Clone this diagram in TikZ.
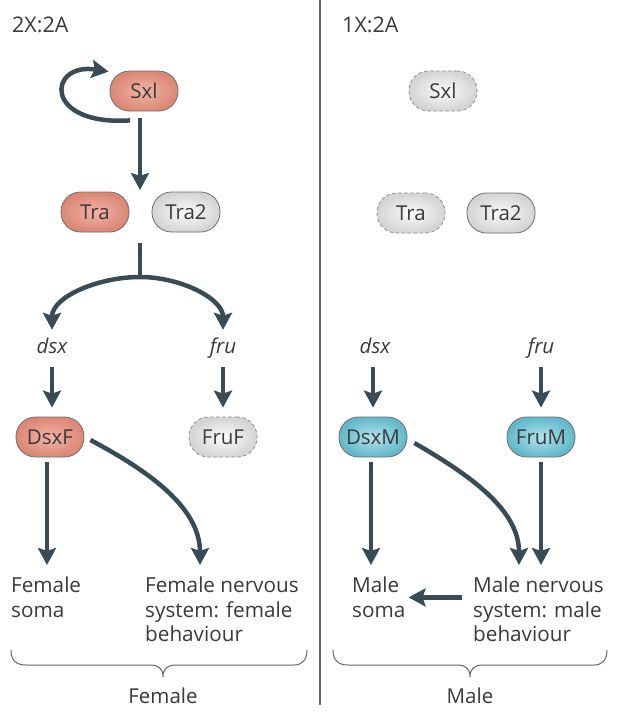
\documentclass[tikz,border=0pt]{standalone}
\usepackage{fontspec}
\setmainfont{Open Sans}
\usetikzlibrary{arrows.meta,calc}
\definecolor{arrc}{HTML}{384C58}
\definecolor{txt}{HTML}{3A3A3A}
\definecolor{redin}{HTML}{F0B3A6}
\definecolor{redout}{HTML}{DC8775}
\definecolor{bluein}{HTML}{B4E3EC}
\definecolor{blueout}{HTML}{62B8CA}
\definecolor{grayin}{HTML}{FBFBFB}
\definecolor{grayout}{HTML}{D4D4D4}
\definecolor{pillline}{HTML}{6E6E6E}
\tikzset{
  pill/.style={rectangle, rounded corners=19.5pt, minimum width=68pt, minimum height=40pt,
    inner sep=0pt, draw=pillline, line width=0.8pt, font=\fontsize{20.5}{24}\selectfont, text=txt},
  redfill/.style={shading=radial, inner color=redin, outer color=redout},
  bluefill/.style={shading=radial, inner color=bluein, outer color=blueout},
  grayfill/.style={shading=radial, inner color=grayin, outer color=grayout},
  absent/.style={dash pattern=on 3.5pt off 2.5pt, draw=gray!90},
  lab/.style={inner sep=0pt, text height=14pt, text depth=4pt, font=\fontsize{20.5}{24}\selectfont\itshape, text=txt},
  body/.style={inner sep=0pt, align=left, anchor=north west, font=\fontsize{20.7}{24.5}\selectfont, text=txt},
  arr/.style={draw=arrc, line width=4.5pt, -{Stealth[length=17pt,width=18pt,inset=3pt]}},
  plain/.style={draw=arrc, line width=4.5pt},
  bracel/.style={draw=gray!80!black, line width=1pt},
}
\begin{document}
\begin{tikzpicture}[x=1pt,y=-1pt]
\useasboundingbox (0,0) rectangle (626,720);
\fill[white] (0,0) rectangle (626,720);
% divider
\draw[gray!80!black, line width=1.2pt] (320,0) -- (320,705);
% headers
\node[anchor=base west, inner sep=0pt, font=\fontsize{21.5}{25}\selectfont, text=txt] (hF) at (12,32) {2X:2A};
\node[anchor=base west, inner sep=0pt, font=\fontsize{21.5}{25}\selectfont, text=txt] (hM) at (342,32) {1X:2A};

% ---------- female side ----------
\node[pill, redfill] (sxlF) at (144,91) {Sxl};
\node[pill, redfill] (traF) at (95,212) {Tra};
\node[pill, grayfill] (tra2F) at (186,212) {Tra2};
\coordinate (pairF) at (140,190);
\coordinate (brF) at (140,277);
\node[lab] (dsxF) at (52,348) {dsx};
\node[lab] (fruF) at (223,348) {fru};
\node[pill, redfill] (DsxF) at (50,437) {DsxF};
\node[pill, grayfill, absent] (FruF) at (223,437) {FruF};
\node[body] (fsoma) at (11,577) {Female\\soma};
\node[body] (fnerv) at (145,577) {Female nervous\\system: female\\behaviour};
\node[anchor=base, inner sep=0pt, font=\fontsize{20.5}{24}\selectfont, text=txt] (female) at (163,703) {Female};

\draw[arr] ([xshift=-14pt,yshift=-9pt]sxlF.south) .. controls (42,126) and (48,62) .. ([xshift=-1pt,yshift=-1pt]sxlF.north west);
\draw[arr] ([xshift=-4pt,yshift=-7pt]sxlF.south) -- (pairF);
\draw[plain] ([xshift=45pt,yshift=-11pt]traF.south) -- (brF);
\draw[arr, shorten >=9pt] (brF) to[out=180,in=90] (dsxF.north);
\draw[arr, shorten >=9pt] (brF) to[out=0,in=90] (fruF.north);
\draw[arr, shorten <=10pt, shorten >=9pt] (dsxF.south) -- (dsxF.south |- DsxF.north);
\draw[arr, shorten <=10pt, shorten >=9pt] (fruF.south) -- (fruF.south |- FruF.north);
\draw[arr, shorten <=5pt, shorten >=12pt] ([xshift=-3pt]DsxF.south) -- ([xshift=-3pt]DsxF.south |- fsoma.north);
\draw[arr, shorten >=12pt] ([xshift=6pt,yshift=-3pt]DsxF.east) to[out=-28,in=90] ([xshift=55pt]fnerv.north west);

\draw[bracel] (fsoma.north west |- 0,650) .. controls (11,660) and (16,665) .. (26,665) -- (150,665)
  .. controls (158,665) and (163,668) .. (female.north |- 0,677) .. controls (163,668) and (168,665) .. (176,665)
  -- (294,665) .. controls (302,665) and (307,660) .. (307,650);

% ---------- male side ----------
\node[pill, grayfill, absent] (sxlM) at (443,91) {Sxl};
\node[pill, grayfill, absent] (traM) at (411,213) {Tra};
\node[pill, grayfill] (tra2M) at (501,213) {Tra2};
\node[lab] (dsxM) at (375,348) {dsx};
\node[lab] (fruM) at (541,348) {fru};
\node[pill, bluefill] (DsxM) at (373,437) {DsxM};
\node[pill, bluefill] (FruM) at (541,437) {FruM};
\node[body] (msoma) at (352,577) {Male\\soma};
\node[body] (mnerv) at (473,577) {Male nervous\\system: male\\behaviour};
\node[anchor=base, inner sep=0pt, font=\fontsize{20.5}{24}\selectfont, text=txt] (male) at (470,703) {Male};

\draw[arr, shorten <=10pt, shorten >=9pt] ([xshift=-2pt]dsxM.south) -- ([xshift=-2pt]dsxM.south |- DsxM.north);
\draw[arr, shorten <=10pt, shorten >=9pt] (fruM.south) -- (fruM.south |- FruM.north);
\draw[arr, shorten <=5pt, shorten >=12pt] ([xshift=-2pt]DsxM.south) -- ([xshift=-2pt]DsxM.south |- msoma.north);
\draw[arr, shorten <=5pt, shorten >=12pt] (FruM.south) -- (FruM.south |- mnerv.north);
\draw[arr, shorten >=12pt] ([xshift=7pt,yshift=-6pt]DsxM.east) to[out=-30,in=90] ([xshift=46pt]mnerv.north west);
\coordinate (mleft) at ([xshift=-11pt]mnerv.north west);
\draw[arr] (mleft |- msoma.east) -- ([xshift=3pt]msoma.east);

\draw[bracel] (333,650) .. controls (333,660) and (338,665) .. (348,665) -- (457,665)
  .. controls (465,665) and (470,668) .. (male.north |- 0,677) .. controls (470,668) and (475,665) .. (483,665)
  -- (594,665) .. controls (602,665) and (607,660) .. (607,650);
\end{tikzpicture}
\end{document}
